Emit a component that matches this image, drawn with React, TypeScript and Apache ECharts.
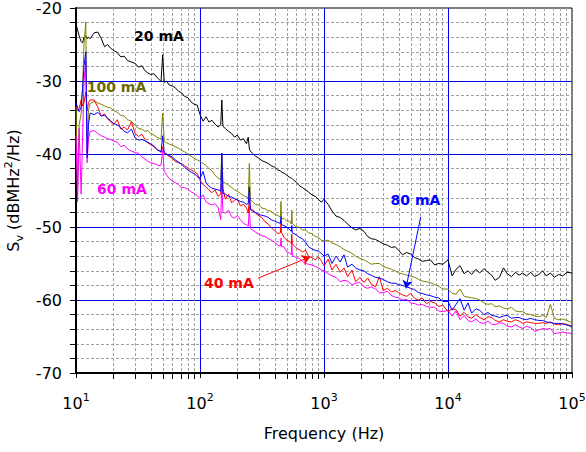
import { useEffect, useRef } from "react";
import * as echarts from "echarts";

const FONT = "DejaVu Sans";

// Frequency grid (Hz)
const freqs = [
  10, 10.3, 10.6, 11, 11.3, 11.6, 12, 12.3, 12.6, 13,
  14, 15, 16, 17, 18, 19, 20,
  21.5, 23, 24.5, 26, 28, 30, 32, 34, 36, 38, 40,
  42.5, 45, 47.5, 48.5, 50, 51.5, 54, 56, 60, 63, 67, 71, 75, 80, 85, 90, 95,
  100, 106, 112, 118, 125, 132, 140, 147, 150, 153,
  160, 170, 180, 190, 200, 212, 224, 237, 245, 250, 255,
  265, 280, 300, 315, 335, 355, 375, 400, 425, 445, 450, 455,
  475, 500, 530, 545, 550, 555, 600, 630, 670, 710, 750, 800, 850, 900, 950,
  1000, 1080, 1160, 1250, 1350, 1450, 1550, 1680, 1800, 1950, 2100, 2250, 2400, 2600, 2800,
  3000, 3250, 3500, 3750, 4000, 4300, 4650, 5000, 5400, 5800, 6200, 6700, 7200, 7800, 8400, 9100,
  10000, 10800, 11600, 12500, 13500, 14500, 15500, 16800, 18000, 19500, 21000, 22500, 24000, 26000, 28000,
  30000, 32500, 35000, 37500, 40000, 43000, 46500, 50000, 54000, 58000, 62000, 67000, 72000, 78000, 84000, 91000, 100000,
];

const sv20mA = [
  -22.2, -23.0, -23.8, -24.6, -24.8, -24.0, -23.8, -24.2, -24.0, -24.2,
  -23.4, -23.3, -24.2, -25.3, -25.0, -25.5, -25.8,
  -26.1, -26.7, -26.6, -27.2, -27.4, -27.6, -28.1, -27.9, -28.6, -28.9, -29.1,
  -29.0, -29.5, -29.9, -30.1, -26.4, -30.2, -30.0, -30.5, -30.7, -30.9, -31.4, -31.6, -32.1, -32.3, -32.9, -33.2, -33.3,
  -34.6, -35.5, -34.9, -35.6, -35.4, -35.9, -36.3, -36.0, -32.6, -36.2,
  -36.5, -36.9, -37.2, -37.7, -37.4, -38.1, -37.9, -38.6, -37.7, -39.3, -39.6,
  -39.9, -40.3, -40.6, -40.9, -41.1, -41.3, -41.6, -41.8, -42.2, -42.3, -42.4, -42.5,
  -42.6, -42.9, -43.2, -43.3, -43.3, -43.4, -43.9, -44.3, -44.6, -44.9, -45.2, -45.6, -45.8, -46.2, -46.6,
  -46.2, -46.9, -47.8, -48.5, -48.7, -49.1, -49.6, -50.1, -50.4, -50.2, -50.6, -51.3, -51.6, -51.7, -52.0,
  -52.3, -52.5, -52.8, -52.7, -53.2, -53.8, -53.5, -53.7, -54.2, -54.4, -54.7, -54.6, -54.5, -55.2, -55.0, -55.1,
  -54.5, -56.7, -55.8, -55.3, -56.4, -56.0, -56.5, -55.8, -56.3, -55.7, -56.2, -56.6, -57.3, -56.9, -55.6,
  -56.4, -56.8, -56.2, -56.6, -56.3, -56.7, -56.2, -56.8, -56.5, -56.0, -56.7, -56.3, -56.9, -56.5, -56.7, -56.2, -56.3,
];

const sv100mA = [
  -33.6, -44.5, -36.0, -34.5, -31.0, -25.0, -21.9, -39.8, -34.0, -33.1,
  -32.8, -33.0, -33.2, -33.4, -33.6, -33.7, -34.0,
  -34.3, -34.7, -34.8, -35.3, -35.5, -36.1, -36.5, -36.6, -36.9, -36.8, -37.2,
  -37.4, -37.7, -37.9, -38.0, -34.4, -38.3, -38.5, -38.6, -38.8, -39.0, -39.2, -39.5, -39.7, -40.0, -40.3, -40.6, -40.8,
  -41.0, -41.3, -41.6, -42.0, -42.3, -42.9, -43.3, -43.5, -39.9, -43.8,
  -44.0, -44.3, -44.6, -44.9, -45.1, -45.4, -45.7, -45.9, -46.0, -41.3, -46.3,
  -46.5, -46.9, -47.0, -47.4, -47.5, -47.8, -47.8, -48.3, -48.4, -48.7, -46.5, -48.9,
  -48.8, -49.2, -49.2, -49.6, -47.7, -49.5, -50.0, -50.0, -50.4, -50.4, -50.8, -50.9, -51.3, -51.4, -51.8,
  -51.9, -51.8, -52.2, -52.4, -52.7, -53.1, -53.3, -53.6, -54.0, -54.3, -54.5, -54.8, -55.1, -55.0, -55.0,
  -55.4, -55.6, -55.8, -56.0, -56.3, -56.4, -56.6, -56.7, -56.9, -57.2, -57.4, -57.5, -57.6, -57.9, -58.1, -58.5,
  -58.5, -59.1, -59.2, -58.5, -59.5, -59.6, -59.7, -59.8, -60.0, -60.4, -60.6, -60.5, -60.9, -60.8, -61.1,
  -61.2, -61.0, -61.5, -61.6, -61.6, -61.9, -62.0, -62.2, -62.3, -62.1, -62.4, -60.6, -62.5, -62.7, -62.6, -62.8, -63.1,
];

const sv60mA = [
  -37.5, -46.5, -36.5, -45.5, -38.0, -30.0, -27.3, -41.2, -38.0, -36.9,
  -36.8, -37.2, -37.5, -37.7, -37.9, -38.0, -38.2,
  -38.4, -39.0, -38.8, -39.3, -39.6, -39.8, -39.9, -40.4, -40.7, -41.0, -41.2,
  -41.3, -41.5, -41.6, -41.5, -39.5, -42.4, -42.9, -43.3, -43.7, -43.9, -44.2, -44.6, -44.6, -44.8, -45.2, -45.4, -45.7,
  -46.1, -45.6, -46.6, -46.8, -47.0, -46.8, -47.3, -49.0, -44.0, -48.0,
  -48.1, -47.7, -48.6, -48.8, -48.4, -49.0, -49.5, -49.7, -49.9, -47.2, -50.2,
  -50.4, -50.7, -51.0, -51.2, -51.3, -51.6, -51.8, -52.1, -52.5, -52.6, -51.5, -52.7,
  -52.7, -53.4, -53.6, -53.8, -52.0, -53.9, -54.2, -54.3, -54.7, -55.0, -55.1, -55.2, -55.4, -55.6, -55.9,
  -56.0, -56.4, -56.7, -56.9, -57.5, -57.3, -57.4, -57.9, -57.7, -57.6, -58.2, -58.4, -58.2, -58.5, -59.0,
  -59.0, -58.8, -59.4, -59.6, -59.7, -60.0, -59.9, -60.4, -60.5, -60.7, -60.6, -60.9, -61.0, -61.0, -61.5, -61.6,
  -61.4, -62.2, -61.5, -62.7, -62.1, -62.8, -63.0, -62.6, -63.1, -63.2, -62.9, -63.3, -63.4, -63.1, -63.2,
  -63.6, -63.7, -63.4, -63.7, -63.9, -63.6, -63.8, -64.3, -64.1, -63.9, -64.0, -63.9, -64.6, -64.5, -64.4, -64.5, -64.6,
];

const sv40mA = [
  -33.5, -34.0, -33.8, -32.6, -33.4, -33.0, -31.5, -34.0, -33.0, -32.6,
  -32.6, -33.6, -34.8, -34.5, -35.2, -35.6, -36.0,
  -35.3, -36.6, -36.3, -36.7, -35.6, -37.2, -37.6, -37.3, -38.0, -38.5, -38.7,
  -39.0, -39.4, -39.6, -39.8, -39.0, -39.9, -40.1, -40.3, -40.6, -41.0, -41.2, -41.3, -41.6, -41.9, -42.2, -42.4, -42.7,
  -43.6, -44.2, -44.5, -44.9, -45.3, -44.9, -45.8, -45.5, -42.5, -44.7,
  -46.2, -45.5, -46.7, -46.3, -46.2, -47.1, -46.9, -47.4, -48.1, -46.0, -47.6,
  -47.6, -48.1, -48.5, -48.7, -49.3, -49.6, -50.1, -50.5, -50.9, -50.8, -49.5, -50.8,
  -51.4, -51.8, -52.0, -52.2, -51.0, -52.3, -52.9, -53.1, -53.4, -53.2, -54.0, -54.2, -54.5, -54.1, -54.6,
  -55.3, -54.4, -55.9, -55.1, -56.2, -55.6, -56.8, -55.9, -57.5, -56.9, -57.6, -57.0, -57.8, -58.2, -56.8,
  -58.7, -58.4, -58.9, -58.7, -59.0, -59.3, -59.5, -59.1, -59.8, -60.0, -59.7, -60.5, -60.2, -60.4, -60.9, -60.7,
  -61.6, -61.2, -61.3, -62.2, -61.7, -62.3, -62.5, -62.0, -62.4, -62.7, -62.3, -62.4, -62.8, -63.0, -62.7,
  -62.9, -63.0, -62.7, -62.9, -63.2, -63.0, -63.1, -63.2, -63.2, -63.1, -63.2, -63.0, -63.3, -63.4, -63.2, -63.4, -63.5,
];

const sv80mA = [
  -33.0, -33.6, -34.2, -33.6, -31.0, -28.0, -26.0, -40.5, -36.0, -34.4,
  -34.6, -34.3, -34.8, -34.7, -35.1, -35.4, -35.8,
  -36.0, -36.4, -36.9, -37.1, -36.6, -37.8, -38.1, -38.0, -38.2, -38.4, -38.6,
  -38.9, -39.4, -39.6, -39.7, -37.5, -39.8, -40.0, -40.2, -40.4, -40.8, -41.1, -41.4, -41.8, -42.2, -42.5, -42.7, -43.1,
  -43.3, -42.4, -44.0, -44.4, -44.7, -44.8, -44.9, -45.1, -39.9, -45.4,
  -45.5, -45.8, -45.9, -46.1, -46.3, -46.5, -46.6, -46.9, -46.8, -44.5, -47.6,
  -47.8, -48.0, -48.3, -48.4, -48.5, -48.7, -49.0, -49.2, -49.4, -49.5, -48.6, -49.7,
  -49.8, -50.0, -50.4, -50.6, -49.8, -50.8, -51.1, -51.4, -51.6, -52.1, -52.7, -53.0, -53.2, -53.3, -53.6,
  -54.0, -53.7, -55.0, -54.0, -54.8, -53.8, -55.5, -55.1, -55.6, -55.9, -56.0, -56.4, -56.6, -56.9, -57.0,
  -57.2, -57.5, -57.7, -57.7, -57.9, -58.0, -58.2, -58.4, -58.6, -59.0, -59.1, -59.3, -59.4, -59.6, -59.7, -60.2,
  -60.2, -61.4, -60.6, -59.8, -61.4, -60.4, -61.8, -61.2, -61.4, -62.0, -61.7, -62.1, -62.2, -62.4, -62.2,
  -62.1, -62.5, -62.4, -62.4, -62.6, -62.7, -62.5, -62.7, -62.8, -62.8, -63.0, -63.1, -63.2, -63.2, -63.3, -63.4, -63.7,
];

// Minor (dashed) frequency grid lines
const minorFreqs = [
  20, 30, 40, 50, 60, 70, 80, 90,
  200, 300, 400, 500, 600, 700, 800, 900,
  2000, 3000, 4000, 5000, 6000, 7000, 8000, 9000,
  20000, 30000, 40000, 50000, 60000, 70000, 80000, 90000,
];

const pairs = (vals: number[]) => freqs.map((f, i) => [f, vals[i]]);

function labelPoint(text: string, color: string, coord: number[]) {
  return {
    symbol: "circle",
    symbolSize: 0,
    silent: true,
    itemStyle: { color: "transparent" },
    label: {
      show: true,
      position: "inside",
      formatter: text,
      color,
      fontFamily: FONT,
      fontWeight: "bold",
      fontSize: 14,
    },
    data: [{ coord }],
  };
}

function arrow(color: string, from: number[], to: number[]) {
  return {
    silent: true,
    symbol: ["none", "arrow"],
    symbolSize: 8,
    label: { show: false },
    lineStyle: { color, width: 1, type: "solid" },
    data: [[{ coord: from }, { coord: to }]],
  };
}

export default function App() {
  const ref = useRef<HTMLDivElement>(null);

  useEffect(() => {
    if (!ref.current) return;
    const chart = echarts.init(ref.current, null, { renderer: "svg" });

    const lineSeries = (name: string, vals: number[], color: string, extra: any = {}) => ({
      name,
      type: "line",
      data: pairs(vals),
      showSymbol: false,
      symbol: "none",
      lineStyle: { color, width: 1 },
      itemStyle: { color },
      z: 3,
      ...extra,
    });

    const option: any = {
      animation: false,
      backgroundColor: "#ffffff",
      textStyle: { fontFamily: FONT },
      grid: {
        left: 76,
        right: 14,
        top: 8,
        bottom: 79,
        show: true,
        borderColor: "#000",
        borderWidth: 1,
        backgroundColor: "transparent",
        containLabel: false,
        outerBoundsMode: "none",
      },
      xAxis: {
        type: "log",
        logBase: 10,
        min: 10,
        max: 100000,
        axisLine: { show: true, onZero: false, lineStyle: { color: "#000", width: 2 } },
        axisTick: { show: true, inside: false, length: 5, lineStyle: { color: "#000", width: 1 } },
        minorTick: { show: false },
        axisLabel: {
          margin: 19,
          formatter: (v: number) => `{b|10}{s|${Math.round(Math.log10(v))}}`,
          rich: {
            b: { fontSize: 16, fontFamily: FONT, color: "#000", lineHeight: 22 },
            s: { fontSize: 11, fontFamily: FONT, color: "#000", lineHeight: 12, verticalAlign: "top" },
          },
        },
        splitLine: {
          show: true,
          showMinLine: false,
          showMaxLine: false,
          lineStyle: { color: "#0000ee", width: 1 },
        },
        name: "Frequency (Hz)",
        nameLocation: "middle",
        nameGap: 52,
        nameTextStyle: { fontSize: 16, color: "#000", fontFamily: FONT },
      },
      yAxis: {
        type: "value",
        min: -70,
        max: -20,
        interval: 10,
        axisLine: { show: true, onZero: false, lineStyle: { color: "#000", width: 2 } },
        axisTick: { show: true, inside: false, length: 6, lineStyle: { color: "#000", width: 1 } },
        minorTick: { show: true, splitNumber: 5, length: 6, lineStyle: { color: "#000", width: 1 } },
        axisLabel: { margin: 14, fontSize: 16, color: "#000", fontFamily: FONT },
        splitLine: {
          show: true,
          showMinLine: false,
          showMaxLine: false,
          lineStyle: { color: "#0000ee", width: 1 },
        },
        minorSplitLine: { show: true, lineStyle: { color: "#a0a0a0", width: 1, type: [3, 2] } },
        name: "{a|S}{v|v}{a| (dBMHz}{p|2}{a|/Hz)}",
        nameLocation: "middle",
        nameGap: 46,
        nameRotate: 90,
        nameTextStyle: {
          color: "#000",
          fontFamily: FONT,
          rich: {
            a: { fontSize: 16, fontFamily: FONT, color: "#000", lineHeight: 22 },
            v: { fontSize: 11, fontFamily: FONT, color: "#000", lineHeight: 12, verticalAlign: "bottom" },
            p: { fontSize: 11, fontFamily: FONT, color: "#000", lineHeight: 12, verticalAlign: "top" },
          },
        },
      },
      series: [
        {
          type: "custom",
          name: "minor-grid",
          silent: true,
          clip: false,
          z: 1,
          data: minorFreqs.map((f) => [f, -70]),
          renderItem: (_params: any, api: any) => {
            const f = api.value(0);
            const top = api.coord([f, -20]);
            const bot = api.coord([f, -70]);
            const x = Math.round(top[0]) + 0.5;
            return {
              type: "group",
              children: [
                {
                  type: "line",
                  shape: { x1: x, y1: top[1], x2: x, y2: bot[1] },
                  style: { stroke: "#a0a0a0", lineWidth: 1, lineDash: [3, 2] },
                },
                {
                  type: "line",
                  shape: { x1: x, y1: bot[1], x2: x, y2: bot[1] + 6 },
                  style: { stroke: "#000", lineWidth: 1 },
                },
              ],
            };
          },
        },
        lineSeries("20 mA", sv20mA, "#000000", {
          markPoint: labelPoint("20 mA", "#000000", [46.7, -23.8]),
        }),
        lineSeries("100 mA", sv100mA, "#808000", {
          markPoint: labelPoint("100 mA", "#6b6b00", [21.2, -30.8]),
        }),
        lineSeries("60 mA", sv60mA, "#ff00ff", {
          markPoint: labelPoint("60 mA", "#ff00ff", [23.5, -44.8]),
        }),
        lineSeries("40 mA", sv40mA, "#ff0000", {
          markPoint: labelPoint("40 mA", "#ff0000", [171, -57.7]),
          markLine: arrow("#ff0000", [295, -57.0], [771, -54.1]),
        }),
        lineSeries("80 mA", sv80mA, "#0000ff", {
          markPoint: labelPoint("80 mA", "#0000ff", [5470, -46.3]),
          markLine: arrow("#0000ff", [6030, -48.6], [4580, -58.4]),
        }),
      ],
    };

    chart.setOption(option);
    return () => chart.dispose();
  }, []);

  return (
    <div
      ref={ref}
      style={{ position: "fixed", left: 0, top: 0, width: 586, height: 452, background: "#fff" }}
    />
  );
}
